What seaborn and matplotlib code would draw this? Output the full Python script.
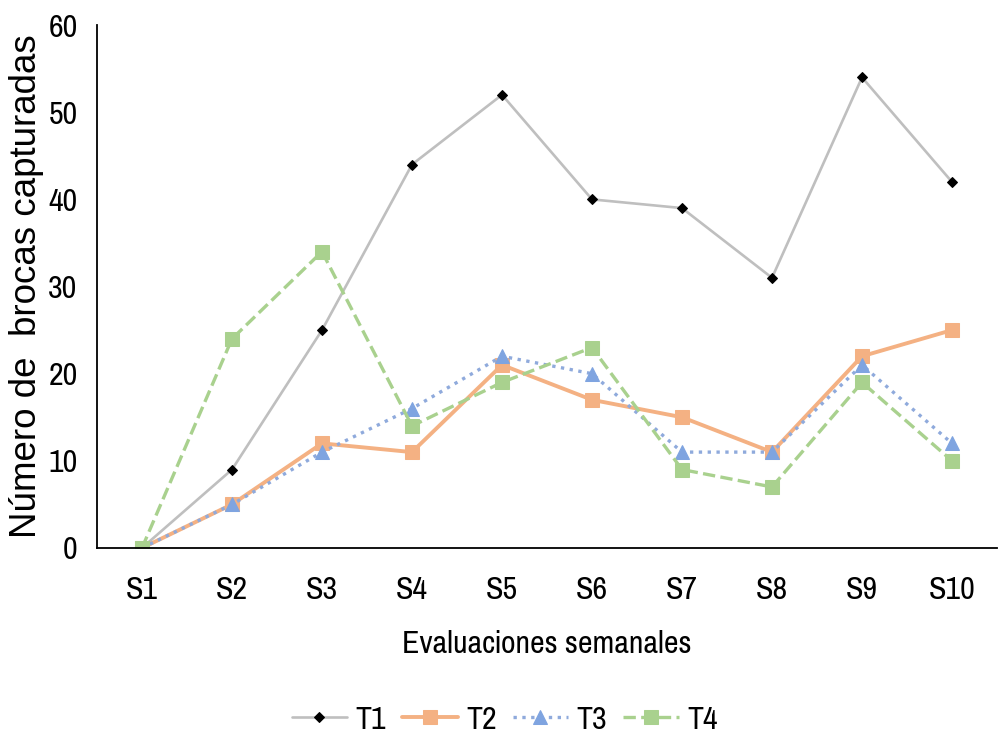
import numpy as np
import pandas as pd
import matplotlib
matplotlib.use("Agg")
import matplotlib.pyplot as plt
import seaborn as sns

# datos
semanas = ['S1', 'S2', 'S3', 'S4', 'S5', 'S6', 'S7', 'S8', 'S9', 'S10']
t1 = [0, 9, 25, 44, 52, 40, 39, 31, 54, 42]
t2 = [0, 5, 12, 11, 21, 17, 15, 11, 22, 25]
t3 = [0, 5, 11, 16, 22, 20, 11, 11, 21, 12]
t4 = [0, 24, 34, 14, 19, 23, 9, 7, 19, 10]

sns.set_theme(style='white')
plt.rcParams['font.family'] = ['Pragati Narrow', 'Liberation Sans', 'DejaVu Sans']
plt.rcParams['text.color'] = 'black'
plt.rcParams['axes.labelcolor'] = 'black'
plt.rcParams['xtick.color'] = 'black'
plt.rcParams['ytick.color'] = 'black'

fig = plt.figure(figsize=(10, 7.38), dpi=100)
ax = fig.add_axes([0.097, 0.2575, 0.9, 0.7085])

estilos = [
    ('T1', t1, '#BFBFBF', '-', 'D', 5, 1.9, 'black'),
    ('T2', t2, '#F4B183', '-', 's', 10, 2.8, '#F4B183'),
    ('T3', t3, '#8FAADC', ':', '^', 10, 2.4, '#7FA4E0'),
    ('T4', t4, '#A9D18E', '--', 's', 10, 2.4, '#A9D18E'),
]
for nombre, vals, color, ls, mk, ms, lw, mcolor in estilos:
    df = pd.DataFrame({'semana': semanas, 'n': vals})
    sns.lineplot(data=df, x='semana', y='n', ax=ax, color=color, linestyle=ls,
                 linewidth=lw, marker=mk, markersize=ms, markerfacecolor=mcolor,
                 markeredgecolor=mcolor, label=nombre, sort=False)

ax.set_xlim(-0.5, 9.5)
ax.set_ylim(0, 60)
ax.set_yticks(range(0, 61, 10))
ax.tick_params(axis='x', length=0, labelsize=25, pad=20)
ax.tick_params(axis='y', length=0, labelsize=25, pad=14)
for s in ['top', 'right']:
    ax.spines[s].set_visible(False)
for s in ['left', 'bottom']:
    ax.spines[s].set_color('black')
    ax.spines[s].set_linewidth(1.3)
ax.set_xlabel('Evaluaciones semanales', fontsize=25, labelpad=19)
ax.set_ylabel('Número de  brocas capturadas', fontsize=26.5, labelpad=3,
              family=['Liberation Sans', 'DejaVu Sans'])

ax.legend(loc='center', bbox_to_anchor=(0.453, -0.328), ncol=4, frameon=False,
          fontsize=25, handlelength=1.6, columnspacing=0.45, handletextpad=0.25)

fig.savefig('out.png', dpi=100)
